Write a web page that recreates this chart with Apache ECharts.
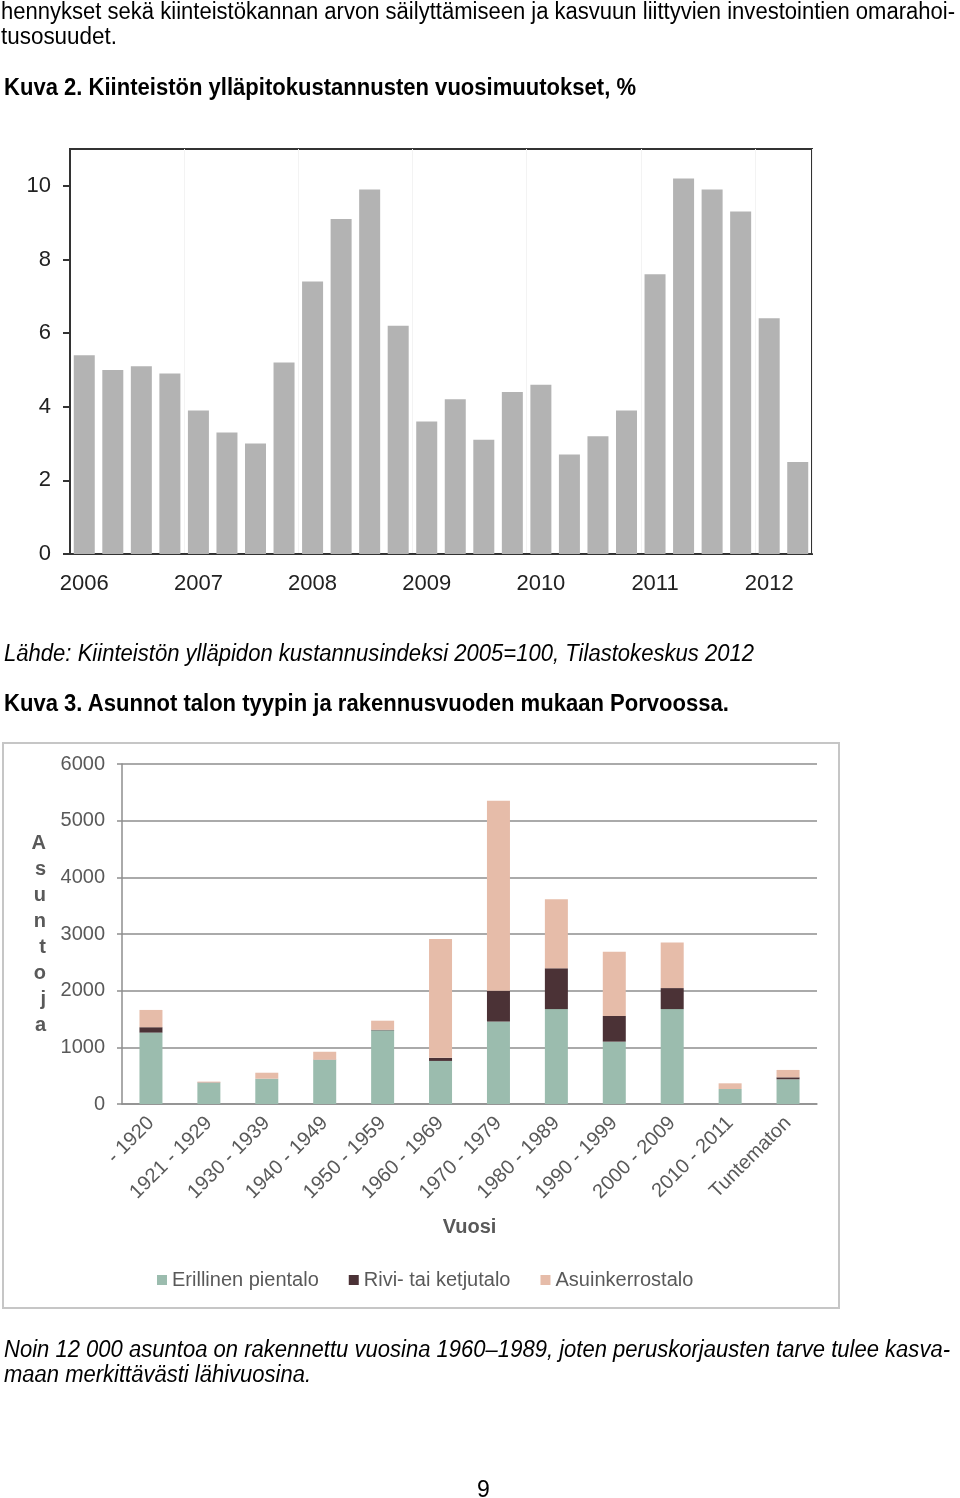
<!DOCTYPE html>
<html>
<head>
<meta charset="utf-8">
<script src="https://cdn.jsdelivr.net/npm/echarts@6/dist/echarts.min.js"></script>
<style>
html,body{margin:0;padding:0;background:#fff;}
#page{position:relative;width:960px;height:1498px;overflow:hidden;font-family:'Liberation Sans',Arial,sans-serif;color:#000;}
#chart{position:absolute;left:0;top:0;width:960px;height:1498px;}
.t{position:absolute;left:4px;white-space:nowrap;line-height:1;transform-origin:0 0;font-size:23px;}
.b{font-weight:bold;}
.i{font-style:italic;}
</style>
</head>
<body>
<div id="page">
<div id="chart"></div>
<div class="t" style="left:1px;top:0px" data-w="954">hennykset sekä kiinteistökannan arvon säilyttämiseen ja kasvuun liittyvien investointien omarahoi-</div>
<div class="t" style="left:1px;top:25px" data-w="116">tusosuudet.</div>
<div class="t b" style="top:76px" data-w="632">Kuva 2. Kiinteistön ylläpitokustannusten vuosimuutokset, %</div>
<div class="t i" style="top:642px" data-w="750">Lähde: Kiinteistön ylläpidon kustannusindeksi 2005=100, Tilastokeskus 2012</div>
<div class="t b" style="top:692px" data-w="725">Kuva 3. Asunnot talon tyypin ja rakennusvuoden mukaan Porvoossa.</div>
<div class="t i" style="top:1338px" data-w="946">Noin 12 000 asuntoa on rakennettu vuosina 1960–1989, joten peruskorjausten tarve tulee kasva-</div>
<div class="t i" style="top:1363px" data-w="307">maan merkittävästi lähivuosina.</div>
<div class="t" style="left:477px;top:1478px">9</div>
</div>
<script>
// ---- Kuva 2 data ----
const quarters = [
  '2006 Q1','2006 Q2','2006 Q3','2006 Q4',
  '2007 Q1','2007 Q2','2007 Q3','2007 Q4',
  '2008 Q1','2008 Q2','2008 Q3','2008 Q4',
  '2009 Q1','2009 Q2','2009 Q3','2009 Q4',
  '2010 Q1','2010 Q2','2010 Q3','2010 Q4',
  '2011 Q1','2011 Q2','2011 Q3','2011 Q4',
  '2012 Q1','2012 Q2'
];
const yearlyChange = [
  5.4, 5.0, 5.1, 4.9,
  3.9, 3.3, 3.0, 5.2,
  7.4, 9.1, 9.9, 6.2,
  3.6, 4.2, 3.1, 4.4,
  4.6, 2.7, 3.2, 3.9,
  7.6, 10.2, 9.9, 9.3,
  6.4, 2.5
];
const yTicks1 = [0, 2, 4, 6, 8, 10];

// ---- Kuva 3 data ----
const periods = ['- 1920','1921 - 1929','1930 - 1939','1940 - 1949','1950 - 1959','1960 - 1969',
                 '1970 - 1979','1980 - 1989','1990 - 1999','2000 - 2009','2010 - 2011','Tuntematon'];
const erillinen = [1260, 375, 447, 777, 1300, 760, 1455, 1675, 1100, 1675, 265, 436];
const rivi      = [  95,   5,   0,   5,   10,  55,  545,  720,  455,  370,   0,  35];
const kerros    = [ 305,  15, 105, 140,  160, 2095, 3350, 1220, 1130, 805, 100, 130];
const seriesNames = ['Erillinen pientalo', 'Rivi- tai ketjutalo', 'Asuinkerrostalo'];
const yAxisName2 = 'Asuntoja';
const xAxisName2 = 'Vuosi';

// scale document text to measured widths
document.querySelectorAll('.t[data-w]').forEach(el => {
  const w = el.getBoundingClientRect().width;
  const target = +el.dataset.w;
  el.style.transform = 'scaleX(' + (target / w) + ')';
});

const FF = "'Liberation Sans', Arial, sans-serif";
const chart = echarts.init(document.getElementById('chart'), null, {renderer: 'canvas'});
const grey2 = '#8e8e8e';
chart.setOption({
  animation: false,
  textStyle: {fontFamily: FF},
  graphic: [{
    type: 'rect', z: -10,
    shape: {x: 3, y: 743, width: 836, height: 565},
    style: {fill: 'none', stroke: '#c6c6c6', lineWidth: 2}
  }],
  grid: [
    {left: 70, top: 149, width: 742, height: 405, show: true, borderColor: '#333', borderWidth: 2, containLabel: false},
    {left: 122, top: 764, width: 695, height: 340, containLabel: false}
  ],
  legend: {
    data: seriesNames, left: 157, top: 1270, icon: 'rect', itemWidth: 10, itemHeight: 10,
    itemGap: 30, padding: 0,
    textStyle: {fontSize: 20, color: '#595959', fontFamily: FF}
  },
  xAxis: [
    {
      type: 'category', gridIndex: 0, data: quarters,
      axisLine: {lineStyle: {color: '#333', width: 2}},
      axisTick: {interval: 3, length: 6, lineStyle: {color: '#333', width: 2}},
      axisLabel: {interval: 3, formatter: v => v.slice(0, 4), fontSize: 22, color: '#222', margin: 19, fontFamily: FF},
      splitLine: {show: true, interval: 3, lineStyle: {color: '#f3f3f3', width: 1}}
    },
    {
      type: 'category', gridIndex: 1, data: periods,
      axisLine: {lineStyle: {color: grey2, width: 1.5}},
      axisTick: {length: 6, lineStyle: {color: grey2, width: 1.5}},
      axisLabel: {interval: 0, rotate: 45, fontSize: 20, color: '#595959', margin: 16, fontFamily: FF},
      name: xAxisName2, nameLocation: 'middle', nameGap: 113,
      nameTextStyle: {fontSize: 20, fontWeight: 'bold', color: '#595959', fontFamily: FF}
    }
  ],
  yAxis: [
    {
      type: 'value', gridIndex: 0, min: 0, max: 11,
      axisLine: {show: true, lineStyle: {color: '#333', width: 2}},
      axisTick: {show: true, length: 7, customValues: yTicks1, lineStyle: {color: '#333', width: 2}},
      axisLabel: {customValues: yTicks1, fontSize: 22, color: '#222', margin: 19, fontFamily: FF},
      splitLine: {show: false}
    },
    {
      type: 'value', gridIndex: 1, min: 0, max: 6000, interval: 1000,
      axisLine: {show: true, lineStyle: {color: grey2, width: 1.5}},
      axisTick: {show: true, length: 5, lineStyle: {color: grey2, width: 1.5}},
      axisLabel: {fontSize: 20, color: '#595959', margin: 17, fontFamily: FF, formatter: v => String(v)},
      splitLine: {show: true, lineStyle: {color: grey2, width: 1.5}},
      name: yAxisName2.split('').join('\n'), nameLocation: 'middle', nameRotate: 0, nameGap: 76,
      nameTextStyle: {fontSize: 20, fontWeight: 'bold', color: '#595959', lineHeight: 26, fontFamily: FF}
    }
  ],
  series: [
    {type: 'bar', xAxisIndex: 0, yAxisIndex: 0, data: yearlyChange, barWidth: 21, itemStyle: {color: '#b3b3b3'}},
    {type: 'bar', name: seriesNames[0], xAxisIndex: 1, yAxisIndex: 1, stack: 's', data: erillinen, barWidth: 23, itemStyle: {color: '#9bbcae'}},
    {type: 'bar', name: seriesNames[1], xAxisIndex: 1, yAxisIndex: 1, stack: 's', data: rivi, barWidth: 23, itemStyle: {color: '#4b3236'}},
    {type: 'bar', name: seriesNames[2], xAxisIndex: 1, yAxisIndex: 1, stack: 's', data: kerros, barWidth: 23, itemStyle: {color: '#e6bca9'}}
  ]
});
</script>
</body>
</html>
